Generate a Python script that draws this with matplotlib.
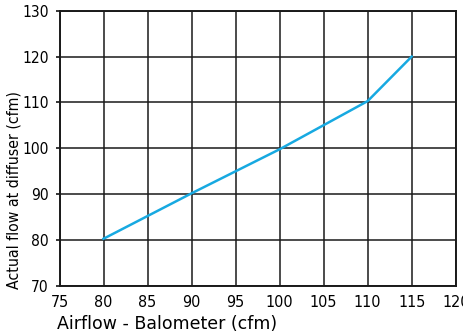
import matplotlib
matplotlib.use("Agg")
import matplotlib.pyplot as plt
from matplotlib import font_manager

balometer = [80, 90, 100, 110, 115]
actual = [80.3, 90.2, 99.8, 110.3, 120]
xticks = [75, 80, 85, 90, 95, 100, 105, 110, 115, 120]
yticks = [70, 80, 90, 100, 110, 120, 130]

# find a condensed font if one is installed
cond = None
for f in font_manager.fontManager.ttflist:
    n = (f.name + " " + str(f.stretch) + " " + f.fname).lower()
    fl = f.fname.lower()
    if ("condensed" in n or "narrow" in n) and "bold" not in fl and "oblique" not in fl and "italic" not in fl:
        cond = f.fname
        break

def fp(size, fallback):
    if cond:
        return font_manager.FontProperties(fname=cond, size=size)
    return font_manager.FontProperties(family="DejaVu Sans", size=fallback)

fig = plt.figure(figsize=(4.64, 3.36), dpi=100)
W, H = 396.2, 275.3
ax = fig.add_axes([59.5/464, 1-286/336, W/464, H/336])
ax.plot(balometer, actual, color="#17a9e1", lw=1.8, zorder=3)
ax.set_xlim(75, 120)
ax.set_ylim(70, 130)
ax.set_xticks(xticks)
ax.set_yticks(yticks)
ax.grid(True, color="#1a1a1a", lw=1.1)
for s in ax.spines.values():
    s.set_color("#1a1a1a")
    s.set_linewidth(1.4)
ax.tick_params(axis='x', length=0, pad=6.5)
ax.tick_params(axis='y', length=2.6, width=1.1, pad=5.2)
for lab in ax.get_xticklabels():
    lab.set_fontproperties(fp(11.5, 10))
for lab in ax.get_yticklabels():
    lab.set_fontproperties(fp(11.2, 10))
ax.set_xlabel("Airflow - Balometer (cfm)", fontsize=12.5)
ax.set_ylabel("Actual flow at diffuser (cfm)", fontproperties=fp(11.3, 10))
ax.yaxis.set_label_coords((21.5-59.5)/W, (286-190)/H)
ax.xaxis.set_label_coords((167.5-59.5)/W, -(315-286)/H)
fig.savefig("out.png", dpi=100)
